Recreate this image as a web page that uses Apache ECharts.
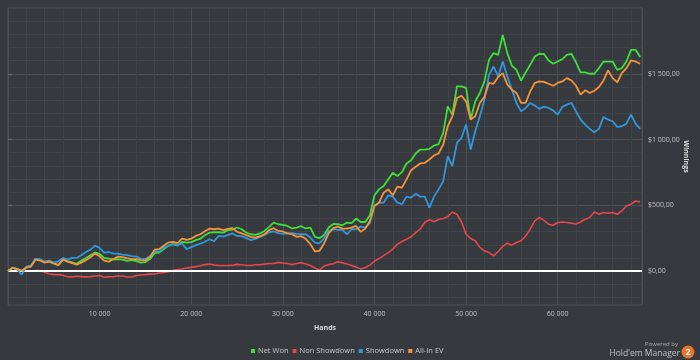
<!DOCTYPE html>
<html>
<head>
<meta charset="utf-8">
<script src="https://cdn.jsdelivr.net/npm/echarts@6/dist/echarts.min.js"></script>
<style>
html,body{margin:0;padding:0;background:#36393d;}
#chart{width:700px;height:360px;}
</style>
</head>
<body>
<div id="chart"></div>
<script>
// ---- data (hands sampled every 500) ----
const HAND_STEP = 500;
const seriesNames = ['Net Won', 'Non Showdown', 'Showdown', 'All-In EV'];
const netWon = [0,24,17,-2,32,36,92,87,70,74,62,44,92,74,67,55,80,100,120,142,
130,100,95,88,91,87,78,83,76,64,68,91,136,140,167,192,205,193,222,216,
220,235,246,273,293,295,295,292,311,316,331,318,293,280,275,286,305,336,369,356,
351,343,324,331,341,324,331,260,250,275,331,358,356,348,369,364,399,373,373,424,
576,621,646,697,748,722,752,818,843,894,924,924,929,954,965,1051,1252,1189,1404,1404,
1392,1152,1290,1354,1442,1606,1657,1644,1795,1657,1561,1530,1447,1510,1568,1631,1652,1650,1601,1576,
1593,1611,1644,1652,1586,1510,1510,1500,1500,1543,1593,1593,1593,1530,1543,1593,1682,1682,1627];
const nonShowdown = [0,0,0,0,0,0,4,4,-9,-21,-27,-27,-32,-44,-44,-39,-42,-44,-42,-37,
-34,-47,-44,-42,-38,-38,-45,-45,-34,-30,-27,-23,-23,-15,-11,-4,4,11,15,23,
28,34,40,49,53,45,42,42,42,43,51,48,42,42,48,48,53,58,57,66,
61,57,49,57,64,53,42,23,8,38,49,55,70,64,53,42,30,15,27,45,
76,95,117,140,167,205,225,242,261,292,320,371,390,375,392,399,414,449,432,373,
280,248,230,180,154,142,116,149,187,212,197,217,230,267,318,381,407,385,356,348,
369,373,369,364,358,373,394,407,449,432,445,439,445,432,457,495,508,533,525];
const showdown = [0,26,11,-27,34,42,95,87,72,80,64,74,100,87,100,100,120,145,163,193,
176,138,145,133,133,125,121,114,110,95,91,114,152,148,178,192,205,197,210,167,
182,197,208,223,242,227,267,261,275,286,267,265,250,235,245,260,275,295,301,288,
283,286,288,283,280,280,255,217,210,250,305,318,313,313,280,318,318,338,331,365,
500,520,520,576,566,520,508,566,558,587,566,566,483,566,621,684,874,798,975,1013,
1114,924,1063,1177,1303,1492,1555,1480,1593,1480,1379,1278,1214,1240,1278,1258,1233,1250,1240,1222,
1189,1248,1265,1278,1214,1152,1114,1081,1055,1081,1172,1152,1139,1096,1101,1121,1189,1121,1081];
const allInEV = [0,26,15,4,26,34,87,80,64,72,57,45,87,72,61,49,64,83,105,133,
112,80,72,90,110,106,98,91,91,83,80,106,163,167,193,217,222,212,246,237,
246,267,280,303,323,318,322,311,320,326,299,286,273,260,255,265,280,311,326,305,
301,286,280,260,265,245,205,149,154,210,286,326,338,323,323,331,343,298,323,381,
495,520,596,621,576,642,634,697,767,793,818,823,848,879,895,962,1101,1177,1316,1333,
1290,1152,1177,1278,1324,1430,1424,1475,1505,1417,1379,1354,1278,1278,1366,1430,1442,1438,1424,1409,
1430,1442,1467,1449,1409,1341,1374,1354,1371,1399,1449,1525,1467,1434,1505,1543,1601,1593,1576];

const xMin = 0, xMax = 69200;
const yMin = -258, yMax = 2000;
const xLabelValues = [10000, 20000, 30000, 40000, 50000, 60000];
const yLabelValues = [0, 500, 1000, 1500];
const yMinorValues = [-200,-100,0,100,200,300,400,500,600,700,800,900,1000,1100,1200,1300,1400,1500,1600,1700,1800,1900,2000];
const colors = ['#3ee03a', '#e4484c', '#3197dd', '#f4953a'];

function toPairs(arr) { return arr.map((v, i) => [i * HAND_STEP, v]); }
function fmtThousands(n) {
  const s = String(Math.round(Math.abs(n)));
  return s.replace(/\B(?=(\d{3})+(?!\d))/g, ' ');
}

const chart = echarts.init(document.getElementById('chart'), null, {renderer: 'canvas'});
const FONT = 'Open Sans';
const option = {
  animation: false,
  backgroundColor: '#36393d',
  color: colors,
  grid: {left: 8, right: 58, top: 8, bottom: 55, show: true, borderColor: '#4d5155', borderWidth: 1,
         backgroundColor: 'transparent', containLabel: false, outerBoundsMode: 'none'},
  legend: {
    data: seriesNames,
    bottom: 0, left: 246,
    icon: 'rect', itemWidth: 4, itemHeight: 4, itemGap: 4,
    textStyle: {color: '#c9cbcd', fontSize: 7.5, fontFamily: FONT, padding: [0, 0, 0, -2]}
  },
  xAxis: [
    {
      type: 'value', position: 'bottom', min: xMin, max: xMax, interval: 2000,
      axisLine: {show: false}, axisTick: {show: false}, axisLabel: {show: false},
      splitLine: {show: true, lineStyle: {color: '#404448', width: 1}}
    },
    {
      type: 'value', position: 'bottom', offset: 0, min: xMin, max: xMax, interval: 10000,
      axisLine: {show: false}, axisTick: {show: false},
      axisLabel: {
        color: '#c3c5c7', fontSize: 7, fontFamily: FONT, margin: 5,
        formatter: v => xLabelValues.indexOf(v) >= 0 ? fmtThousands(v) : ''
      },
      splitLine: {show: true, lineStyle: {color: '#4d5155', width: 1}},
      name: 'Hands', nameLocation: 'middle', nameGap: 19,
      nameTextStyle: {color: '#d8dadc', fontSize: 7, fontWeight: 'bold', fontFamily: FONT}
    }
  ],
  yAxis: [
    {
      type: 'value', position: 'right', min: yMin, max: yMax,
      axisLine: {show: false}, axisLabel: {show: false},
      axisTick: {show: false, customValues: yMinorValues},
      splitLine: {show: true, lineStyle: {color: '#404448', width: 1}}
    },
    {
      type: 'value', position: 'right', offset: 0, min: yMin, max: yMax,
      axisLine: {show: false},
      axisTick: {show: true, length: 4, customValues: yLabelValues, lineStyle: {color: '#6a6e72'}},
      axisLabel: {
        customValues: yLabelValues, color: '#c3c5c7', fontSize: 7, fontFamily: FONT, margin: 6,
        formatter: v => '$' + fmtThousands(v) + ',00'
      },
      splitLine: {show: true, lineStyle: {color: '#4d5155', width: 1}},
      name: 'Winnings', nameLocation: 'middle', nameGap: 40, nameRotate: -90, nameMoveOverlap: false,
      nameTextStyle: {color: '#d8dadc', fontSize: 7, fontWeight: 'bold', fontFamily: FONT}
    }
  ],
  series: [
    {name: seriesNames[0], type: 'line', data: toPairs(netWon), showSymbol: false, lineStyle: {width: 1.8}, z: 3,
     markLine: {silent: true, symbol: 'none', label: {show: false}, lineStyle: {color: '#ffffff', width: 2, type: 'solid'}, data: [{yAxis: 0}]}},
    {name: seriesNames[1], type: 'line', data: toPairs(nonShowdown), showSymbol: false, lineStyle: {width: 1.6}, z: 4},
    {name: seriesNames[2], type: 'line', data: toPairs(showdown), showSymbol: false, lineStyle: {width: 1.8}, z: 5},
    {name: seriesNames[3], type: 'line', data: toPairs(allInEV), showSymbol: false, lineStyle: {width: 1.8}, z: 6}
  ],
  graphic: [
    {type: 'text', right: 22, top: 341, style: {text: 'Powered by', fill: '#a9abad', font: '6px "Open Sans"'}},
    {type: 'text', right: 20, top: 349, style: {text: "Hold'em Manager", fill: '#c0c2c4', font: '8.5px "Open Sans"'}},
    {type: 'circle', shape: {cx: 688, cy: 352, r: 6.5}, style: {fill: '#e8742a'}},
    {type: 'text', x: 688, y: 352, style: {text: '2', fill: '#ffffff', font: 'bold 9px "Open Sans"', align: 'center', verticalAlign: 'middle'}}
  ]
};
chart.setOption(option);
</script>
</body>
</html>
